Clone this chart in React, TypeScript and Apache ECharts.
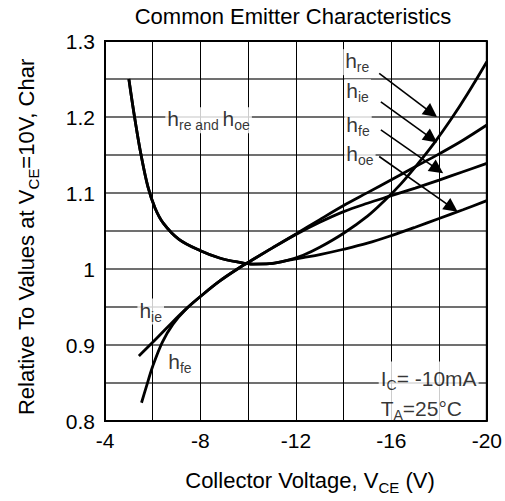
import React, { useEffect, useRef } from 'react';
import * as echarts from 'echarts';

// ---- data ----
// shared left branch of h_re and h_oe (x = VCE in volts, y = relative value)
const hreHoeLeft: number[][] = [
  [-5.0, 1.25], [-5.12, 1.224], [-5.3, 1.188], [-5.5, 1.152], [-5.8, 1.108],
  [-6.1, 1.08], [-6.45, 1.06], [-7.1, 1.039], [-8.0, 1.024], [-8.8, 1.0145],
  [-9.6, 1.009], [-10.2, 1.0065], [-10.9, 1.007], [-11.6, 1.011],
];
const hreRight: number[][] = [
  [-12.3, 1.018], [-13, 1.0285], [-14, 1.047], [-15, 1.0695], [-15.7, 1.0895],
  [-16.4, 1.112], [-17.1, 1.138], [-17.8, 1.166], [-18.5, 1.197], [-19.2, 1.231],
  [-20, 1.2728],
];
const hoeRight: number[][] = [
  [-12.3, 1.015], [-13, 1.019], [-14, 1.026], [-15, 1.034], [-16, 1.044],
  [-17, 1.055], [-18, 1.0665], [-19, 1.078], [-20, 1.0899],
];
const hieValues: number[][] = [
  [-5.42, 0.8855], [-6.0, 0.9035], [-6.7, 0.926], [-7.4, 0.9475], [-8.1, 0.9665],
  [-8.8, 0.984], [-9.5, 0.999], [-10.1, 1.0105], [-11, 1.0275], [-12, 1.046],
  [-13, 1.065], [-14, 1.0835], [-15, 1.1005], [-16, 1.1175], [-17, 1.1345],
  [-18, 1.1515], [-19, 1.1695], [-20, 1.1895],
];
const hfeValues: number[][] = [
  [-5.53, 0.824], [-5.74, 0.846], [-6.0, 0.872], [-6.4, 0.9035], [-6.85, 0.9275],
  [-7.4, 0.9475], [-8.1, 0.9665], [-8.8, 0.984], [-9.5, 0.999], [-10.1, 1.0105],
  [-11, 1.0275], [-12, 1.0455], [-13, 1.0615], [-14, 1.0755], [-15, 1.0865],
  [-16, 1.0965], [-17, 1.1065], [-18, 1.117], [-19, 1.128], [-20, 1.139],
];

// annotation arrows: start and end points in data coordinates
const arrowStarts: number[][] = [[-15.49, 1.2575], [-15.56, 1.22], [-15.56, 1.183], [-15.49, 1.148]];
const arrowEnds: number[][] = [[-17.68, 1.2055], [-17.68, 1.172], [-17.93, 1.1312], [-18.54, 1.0807]];

// curve labels (left edge, vertical centre) in data coordinates
const labelTexts: string[] = [
  '{h|h}{s|re}', '{h|h}{s|ie}', '{h|h}{s|fe}', '{h|h}{s|oe}',
  '{h|h}{s|re and }{h|h}{s|oe}', '{h|h}{s|ie}', '{h|h}{s|fe}',
  '{b|I}{c|C}{b|= -10mA}\n{b|T}{c|A}{b|=25°C}',
];
const labelPoints: number[][] = [
  [-14.0, 1.2715], [-14.05, 1.232], [-14.05, 1.187], [-14.05, 1.149],
  [-6.55, 1.195], [-5.38, 0.9434], [-6.59, 0.876],
  [-15.49, 0.837],
];

const xTicks = { min: -20, max: -4, step: 2 };
const yTicks = { min: 0.8, max: 1.3, step: 0.05 };

const FONT = "'Liberation Sans', Arial, Helvetica, sans-serif";

export default function App() {
  const ref = useRef<HTMLDivElement>(null);
  useEffect(() => {
    if (!ref.current) return;
    const chart = echarts.init(ref.current, undefined, { renderer: 'svg' });
    const lineStyle = { color: '#000', width: 2.8 };
    const rich = {
      h: { fontSize: 21, fontFamily: FONT, color: '#000', verticalAlign: 'bottom', padding: [0, 0, 3, 0] },
      s: { fontSize: 14, fontFamily: FONT, color: '#000', verticalAlign: 'bottom' },
      b: { fontSize: 21, fontFamily: FONT, color: '#000', verticalAlign: 'bottom', lineHeight: 30, padding: [0, 0, 3, 0] },
      c: { fontSize: 14, fontFamily: FONT, color: '#000', verticalAlign: 'bottom', lineHeight: 30 },
    };
    const option: any = {
      animation: false,
      textStyle: { fontFamily: FONT, color: '#000' },
      grid: {
        left: 105, right: 17, top: 41, bottom: 80, show: true, z: 3,
        borderColor: '#000', borderWidth: 2, backgroundColor: 'transparent',
      },
      xAxis: {
        type: 'value', min: xTicks.min, max: xTicks.max, interval: xTicks.step, inverse: true,
        axisLine: { show: false }, axisTick: { show: false },
        axisLabel: {
          fontSize: 21, color: '#000', fontFamily: FONT, margin: 9,
          formatter: (v: number) => (Math.round(v) % 4 === 0 ? String(Math.round(v)) : ''),
        },
        splitLine: { show: true, lineStyle: { color: '#000', width: 1 } },
      },
      yAxis: {
        type: 'value', min: yTicks.min, max: yTicks.max, interval: yTicks.step,
        axisLine: { show: false }, axisTick: { show: false },
        axisLabel: {
          fontSize: 21, color: '#000', fontFamily: FONT, margin: 10,
          formatter: (v: number) => {
            const r = Math.round(v * 100);
            return r % 10 === 0 ? String(r / 100) : '';
          },
        },
        splitLine: { show: true, lineStyle: { color: '#707070', width: 2 } },
      },
      graphic: [
        {
          type: 'text', x: 293, y: 16,
          style: { text: 'Common Emitter Characteristics', fontSize: 22, fontFamily: FONT, fill: '#000', align: 'center', verticalAlign: 'middle' },
        },
        {
          type: 'text', x: 310, y: 482,
          style: {
            text: '{t|Collector Voltage, V}{s|CE}{t| (V)}', align: 'center', verticalAlign: 'middle',
            rich: {
              t: { fontSize: 22, fontFamily: FONT, fill: '#000', verticalAlign: 'bottom', padding: [0, 0, 3, 0] },
              s: { fontSize: 15, fontFamily: FONT, fill: '#000', verticalAlign: 'bottom' },
            },
          },
        },
        {
          type: 'text', x: 28, y: 237, rotation: Math.PI / 2,
          style: {
            text: '{t|Relative To Values at V}{s|CE}{t|=10V, Char}', align: 'center', verticalAlign: 'middle',
            rich: {
              t: { fontSize: 22, fontFamily: FONT, fill: '#000', verticalAlign: 'bottom', padding: [0, 0, 3, 0] },
              s: { fontSize: 15, fontFamily: FONT, fill: '#000', verticalAlign: 'bottom' },
            },
          },
        },
      ],
      series: [
        {
          type: 'scatter', name: 'labels', z: 1, symbolSize: 1, silent: true,
          itemStyle: { color: 'rgba(0,0,0,0)' },
          data: labelPoints.map((p, i) => ({
            value: p,
            label: {
              show: true, position: [0, 0], align: 'left', verticalAlign: 'middle',
              formatter: labelTexts[i], backgroundColor: '#fff', padding: [1, 2], rich,
            },
          })),
        },
        {
          type: 'line', name: 'hre', data: [...hreHoeLeft, ...hreRight], smooth: 0.35,
          symbol: 'none', lineStyle, z: 2, silent: true,
        },
        {
          type: 'line', name: 'hoe', data: [...hreHoeLeft, ...hoeRight], smooth: 0.35,
          symbol: 'none', lineStyle, z: 2, silent: true,
        },
        {
          type: 'line', name: 'hie', data: hieValues, smooth: 0.35,
          symbol: 'none', lineStyle, z: 2, silent: true,
          markLine: {
            silent: true, symbol: ['none', 'triangle'], symbolSize: 14,
            label: { show: false },
            lineStyle: { color: '#000', width: 1.6, type: 'solid' },
            itemStyle: { color: '#000' },
            data: arrowStarts.map((s, i) => [{ coord: s }, { coord: arrowEnds[i] }]),
          },
        },
        {
          type: 'line', name: 'hfe', data: hfeValues, smooth: 0.35,
          symbol: 'none', lineStyle, z: 2, silent: true,
        },
      ],
    };
    chart.setOption(option);
    return () => chart.dispose();
  }, []);
  return <div ref={ref} style={{ position: 'fixed', left: 0, top: 0, width: 505, height: 501, background: '#fff' }} />;
}
